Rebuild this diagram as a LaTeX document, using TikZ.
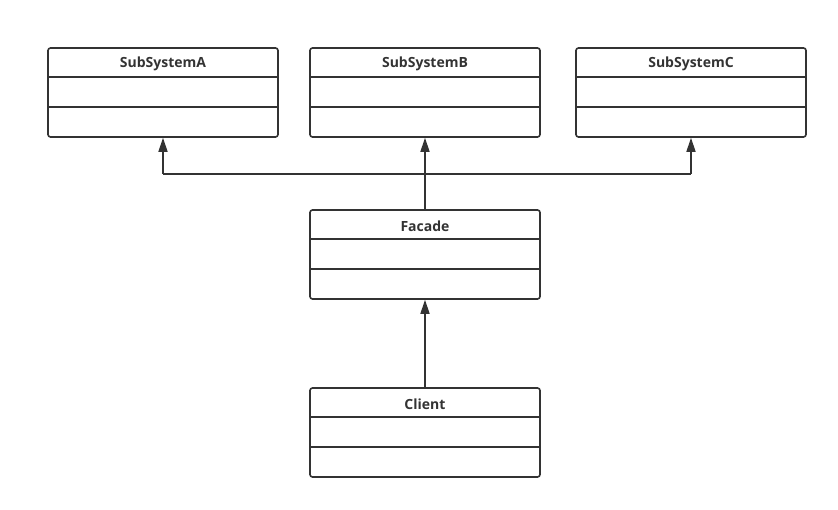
\documentclass[tikz,border=0pt]{standalone}
\usepackage{fontspec}
\setmainfont{Open Sans}
\usetikzlibrary{arrows.meta}
\definecolor{ink}{HTML}{333333}
\tikzset{
  umlbox/.style={draw=ink, line width=1.6pt, rounded corners=2.5pt, minimum width=230pt, minimum height=89pt, inner sep=0pt},
  title/.style={font=\bfseries\fontsize{14pt}{16pt}\selectfont, text=ink},
  divider/.style={draw=ink, line width=1.6pt},
  conn/.style={draw=ink, line width=1.6pt, -{Triangle[length=14pt,width=9pt]}},
  plain/.style={draw=ink, line width=1.6pt}
}
\newcommand{\umlclass}[3]{%
  \node[umlbox] (#1) at (#2) {};
  \node[title] (#1t) at ([yshift=-17pt]#1.north) {#3};
  \draw[divider] ([yshift=-30pt]#1.north west) -- ([yshift=-30pt]#1.north east);
  \draw[divider] ([yshift=-60pt]#1.north west) -- ([yshift=-60pt]#1.north east);
}
\begin{document}
\begin{tikzpicture}[x=1pt,y=-1pt]
\useasboundingbox (0,0) rectangle (838,510);
\umlclass{A}{163,92.5}{SubSystemA}
\umlclass{B}{425,92.5}{SubSystemB}
\umlclass{C}{691,92.5}{SubSystemC}
\umlclass{F}{425,254.5}{Facade}
\umlclass{K}{425,432.5}{Client}
\coordinate (jl) at (A.south |- 0,174);
\coordinate (jr) at (C.south |- 0,174);
\draw[plain] (jl) -- (jr);
\draw[conn] (jl) -- (A.south);
\draw[conn] (jr) -- (C.south);
\draw[conn] (F.north) -- (B.south);
\draw[conn] (K.north) -- (F.south);
\end{tikzpicture}
\end{document}
